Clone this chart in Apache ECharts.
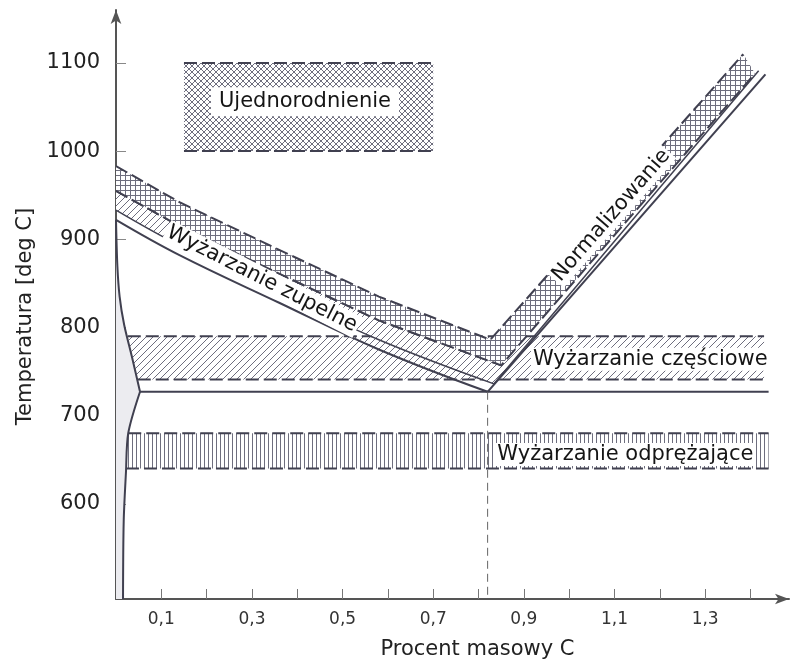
<!DOCTYPE html>
<html><head><meta charset="utf-8">
<script src="https://cdn.jsdelivr.net/npm/echarts@6/dist/echarts.min.js"></script>
<style>html,body{margin:0;padding:0;background:#fff}#c{width:792px;height:665px}</style>
</head><body><div id="c"></div>
<script>
// ---- axis ticks / labels ----
const xTicks = [0.1,0.2,0.3,0.4,0.5,0.6,0.7,0.8,0.9,1.0,1.1,1.2,1.3,1.4];
const xLabels = [0.1,0.3,0.5,0.7,0.9,1.1,1.3];
const yTicks = [600,700,800,900,1000,1100];

// ---- phase lines [C %, T degC] ----
const lineA3   = [[0,922],[0.14,882],[0.36,828],[0.58,775],[0.82,727]];
const lineA3b  = [[0,933],[0.14,893],[0.36,839],[0.58,786],[0.834,736]];
const lineAcm  = [[0.82,727],[1.433,1087]];
const lineAcmb = [[0.834,736],[1.418,1091]];
const lineA1   = [[0.053,727],[1.44,727]];
const lineGP   = [[0,922],[0.003,870],[0.008,835],[0.018,803],[0.035,767],[0.053,727]];
const linePQ   = [[0.053,727],[0.027,680],[0.022,636],[0.017,580],[0.0155,492]];
const lineEut  = [[0.82,727],[0.82,492]];

// ---- heat treatment bands: lower / upper boundaries ----
const homogLow   = [[0.15,1000],[0.70,1000]];
const homogHigh  = [[0.15,1100],[0.70,1100]];
const partLow    = [[0.048,741],[1.43,741]];
const partHigh   = [[0.026,790],[1.43,790]];
const stressLow  = [[0.022,640],[1.44,640]];
const stressHigh = [[0.027,680],[1.44,680]];
const fullLow    = [[0,933],[0.14,893],[0.36,839],[0.58,786],[0.834,736]];
const fullHigh   = [[0,955],[0.14,915],[0.36,861],[0.58,808],[0.85,757]];
const normLow    = [[0,955],[0.14,915],[0.36,861],[0.58,808],[0.85,757],[1.41,1088]];
const normHigh   = [[0,983],[0.14,942],[0.36,888],[0.58,835],[0.826,786],[1.384,1110]];

// ---- annotation texts ----
const labelTexts   = ['Ujednorodnienie','Wyżarzanie zupelne','Normalizowanie','Wyżarzanie częściowe','Wyżarzanie odprężające'];
const labelAnchors = [[0.417,1056],[0.322,855],[1.093,927],[1.179,764],[1.124,656]];
const labelAngles  = [0,-27,49,0,0];

const INK = '#404050';
const FONT = '"DejaVu Sans", Verdana, sans-serif';

function makePattern(kind){
  const s = kind==='grid' ? 5 : (kind==='vert' ? 4 : (kind==='cross' ? 6 : 7));
  const cv = document.createElement('canvas'); cv.width = s; cv.height = s;
  const g = cv.getContext('2d');
  g.fillStyle = '#fff'; g.fillRect(0,0,s,s);
  g.strokeStyle = '#6e6e7e'; g.lineWidth = 1;
  g.beginPath();
  if (kind==='diag' || kind==='cross'){
    g.moveTo(-1,s+1); g.lineTo(s+1,-1);
    g.moveTo(-1,1); g.lineTo(1,-1);
    g.moveTo(s-1,s+1); g.lineTo(s+1,s-1);
  }
  if (kind==='cross'){
    g.moveTo(-1,-1); g.lineTo(s+1,s+1);
    g.moveTo(-1,s-1); g.lineTo(1,s+1);
    g.moveTo(s-1,-1); g.lineTo(s+1,1);
  }
  if (kind==='grid'){
    g.moveTo(0.5,0); g.lineTo(0.5,s);
    g.moveTo(0,0.5); g.lineTo(s,0.5);
  }
  if (kind==='vert'){
    g.moveTo(0.5,0); g.lineTo(0.5,s);
  }
  g.stroke();
  return {image: cv, repeat: 'repeat'};
}

function band(name, low, high, fill, z, dashLow){
  return {
    type:'custom', name, silent:true, z, clip:true,
    data:[low[0]], encode:{x:0,y:1},
    renderItem:(p, api)=>{
      const L = low.map(q=>api.coord(q));
      const H = high.map(q=>api.coord(q));
      const ch = [{type:'polygon', shape:{points: L.concat(H.slice().reverse())}, style:{fill: fill, stroke:null}}];
      ch.push({type:'polyline', shape:{points:H}, style:{fill:null, stroke:INK, lineWidth:2, lineDash:[13,5]}});
      if (dashLow) ch.push({type:'polyline', shape:{points:L}, style:{fill:null, stroke:INK, lineWidth:2, lineDash:[13,5]}});
      return {type:'group', children: ch};
    }
  };
}

function ln(name, data, extra){
  return Object.assign({type:'line', name, data, symbol:'none', silent:true, z:5,
    lineStyle:{color:INK, width:2}}, extra||{});
}

const ferrite = lineGP.concat(linePQ.slice(1)).concat([[0,492]]);

const chart = echarts.init(document.getElementById('c'));
chart.setOption({
  animation:false,
  backgroundColor:'#fff',
  grid:{left:116, right:3, top:10, bottom:60},
  xAxis:{
    type:'value', min:0, max:1.485,
    name:'Procent masowy C', nameLocation:'middle', nameGap:40,
    nameTextStyle:{fontSize:21, color:'#222', fontFamily:FONT, padding:[0,0,0,50]},
    axisLine:{show:true, onZero:false, symbol:['none','arrow'], symbolSize:[8,14], lineStyle:{color:'#555', width:2}},
    axisTick:{show:true, inside:true, length:10, customValues:xTicks, lineStyle:{color:'#777', width:1}},
    axisLabel:{customValues:xLabels, formatter:v=>Number(v).toFixed(1).replace('.',','), fontSize:17, color:'#333', margin:12, fontFamily:FONT},
    splitLine:{show:false}
  },
  yAxis:{
    type:'value', min:492, max:1160,
    name:'Temperatura [deg C]', nameLocation:'middle', nameGap:79,
    nameTextStyle:{fontSize:21, color:'#222', fontFamily:FONT, padding:[0,24,0,0]},
    axisLine:{show:true, onZero:false, symbol:['none','arrow'], symbolSize:[8,14], lineStyle:{color:'#555', width:2}},
    axisTick:{show:true, inside:true, length:10, customValues:yTicks, lineStyle:{color:'#888', width:1}},
    axisLabel:{customValues:yTicks, formatter:v=>String(Math.round(v)), fontSize:21, color:'#222', margin:16, fontFamily:FONT},
    splitLine:{show:false}
  },
  series:[
    {type:'custom', name:'ferryt', silent:true, z:1, data:[ferrite[0]], encode:{x:0,y:1},
      renderItem:(p,api)=>({type:'polygon', shape:{points: ferrite.map(q=>api.coord(q))}, style:{fill:'#ececf0', stroke:null}})},
    band('Ujednorodnienie', homogLow, homogHigh, makePattern('cross'), 2, true),
    band('Wyżarzanie odprężające', stressLow, stressHigh, makePattern('vert'), 2, true),
    band('Wyżarzanie częściowe', partLow, partHigh, makePattern('diag'), 2, true),
    band('Wyżarzanie zupelne', fullLow, fullHigh, makePattern('diag'), 3, false),
    band('Normalizowanie', normLow, normHigh, makePattern('grid'), 3, true),
    ln('A1', lineA1),
    ln('A3', lineA3, {smooth:0.4}),
    ln('A3b', lineA3b, {smooth:0.4, lineStyle:{color:INK, width:1.5}}),
    ln('Acm', lineAcm),
    ln('Acmb', lineAcmb, {lineStyle:{color:INK, width:1.5}}),
    ln('GP', lineGP, {smooth:0.3}),
    ln('PQ', linePQ, {smooth:0.3}),
    ln('eutektoid', lineEut, {lineStyle:{color:'#666', width:1, type:[8,5]}}),
    {type:'custom', name:'opisy', silent:true, z:10, data:labelAnchors, encode:{x:0,y:1},
      renderItem:(p,api)=>{
        const i = p.dataIndex;
        const pt = api.coord([api.value(0), api.value(1)]);
        return {type:'text', x:pt[0], y:pt[1], rotation: labelAngles[i]*Math.PI/180,
          style:{text:labelTexts[i], font:'21px '+FONT, fill:'#151515', align:'center', verticalAlign:'middle',
            backgroundColor:'#fff', padding: i===0 ? [4,8] : [1,2]}};
      }}
  ]
});
</script></body></html>
